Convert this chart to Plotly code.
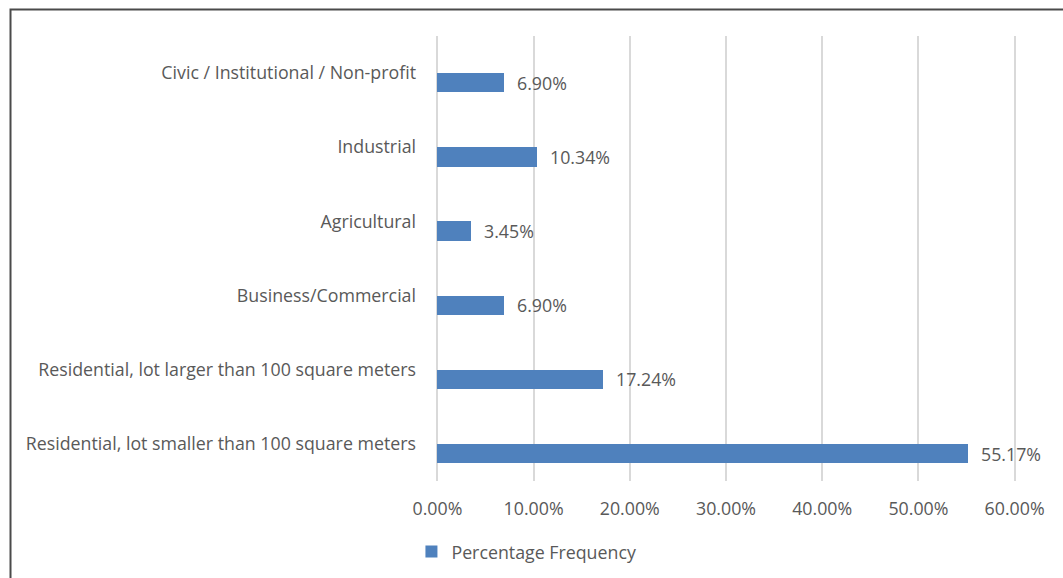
import plotly.graph_objects as go

# Land-use categories, listed bottom to top as they appear on the axis
categories = [
    "Residential, lot smaller than 100 square meters",
    "Residential, lot larger than 100 square meters",
    "Business/Commercial",
    "Agricultural",
    "Industrial",
    "Civic / Institutional / Non-profit",
]
percentages = [55.17, 17.24, 6.90, 3.45, 10.34, 6.90]
x_ticks = [0, 10, 20, 30, 40, 50, 60]
x_tick_labels = [f"{v:.2f}%" for v in x_ticks]

BAR_COLOR = "#4f81bd"
TEXT_COLOR = "#595959"
FONT = "Open Sans"
FSIZE = 17.8

W, H = 1063, 578
# small padding on the value axis so the 0% and 60% gridlines are kept
X_MIN, X_MAX = -0.25, 60.25
px_per_unit = (1015 - 437) / 60
L = 437 - (0 - X_MIN) * px_per_unit
R = W - (1015 + (X_MAX - 60) * px_per_unit)
T, B = 36, 97
plot_w = W - L - R
plot_h = H - T - B

bar_width = 0.26

fig = go.Figure()
fig.add_trace(go.Bar(
    y=categories,
    x=percentages,
    orientation="h",
    name="Percentage Frequency",
    marker=dict(color=BAR_COLOR, line=dict(width=0)),
    width=bar_width,
    offset=-bar_width,
))

# Value labels to the right of each bar
for cat, val in zip(categories, percentages):
    fig.add_annotation(
        x=val, y=cat, xref="x", yref="y",
        text=f"{val:.2f}%",
        showarrow=False, xanchor="left", yanchor="middle",
        xshift=11, yshift=-bar_width / 2 * plot_h / len(categories),
        font=dict(family=FONT, size=FSIZE, color=TEXT_COLOR),
    )

# Chart-area frame (top and left edges visible)
px_to_xpaper = lambda px: (px - L) / plot_w
px_to_ypaper = lambda py: (H - B - py) / plot_h
fig.add_shape(
    type="rect", xref="paper", yref="paper",
    x0=px_to_xpaper(9.5), x1=px_to_xpaper(1080),
    y0=px_to_ypaper(600), y1=px_to_ypaper(9.5),
    line=dict(color="#4a4a4a", width=2),
    fillcolor="rgba(0,0,0,0)", layer="below",
)

fig.update_layout(
    width=W, height=H,
    margin=dict(l=L, r=R, t=T, b=B, pad=0, autoexpand=False),
    paper_bgcolor="white", plot_bgcolor="white",
    font=dict(family=FONT, size=FSIZE, color=TEXT_COLOR),
    bargap=0,
    showlegend=True,
    legend=dict(
        orientation="h", x=px_to_xpaper(411), xanchor="left",
        y=px_to_ypaper(552), yanchor="middle",
        font=dict(family=FONT, size=FSIZE, color=TEXT_COLOR),
        itemwidth=30,
    ),
    xaxis=dict(
        range=[X_MIN, X_MAX],
        tickvals=x_ticks, ticktext=x_tick_labels,
        showgrid=True, gridcolor="#d9d9d9", gridwidth=2,
        zeroline=True, zerolinecolor="#d9d9d9", zerolinewidth=2,
        showline=False,
        ticks="", ticklabelstandoff=15,
        tickfont=dict(family=FONT, size=FSIZE, color=TEXT_COLOR),
        fixedrange=True,
    ),
    yaxis=dict(
        categoryorder="array", categoryarray=categories,
        showgrid=False, zeroline=False, showline=False,
        ticks="", ticklabelstandoff=18,
        tickfont=dict(family=FONT, size=FSIZE, color=TEXT_COLOR),
        fixedrange=True,
    ),
)

fig.write_html("out.html")
